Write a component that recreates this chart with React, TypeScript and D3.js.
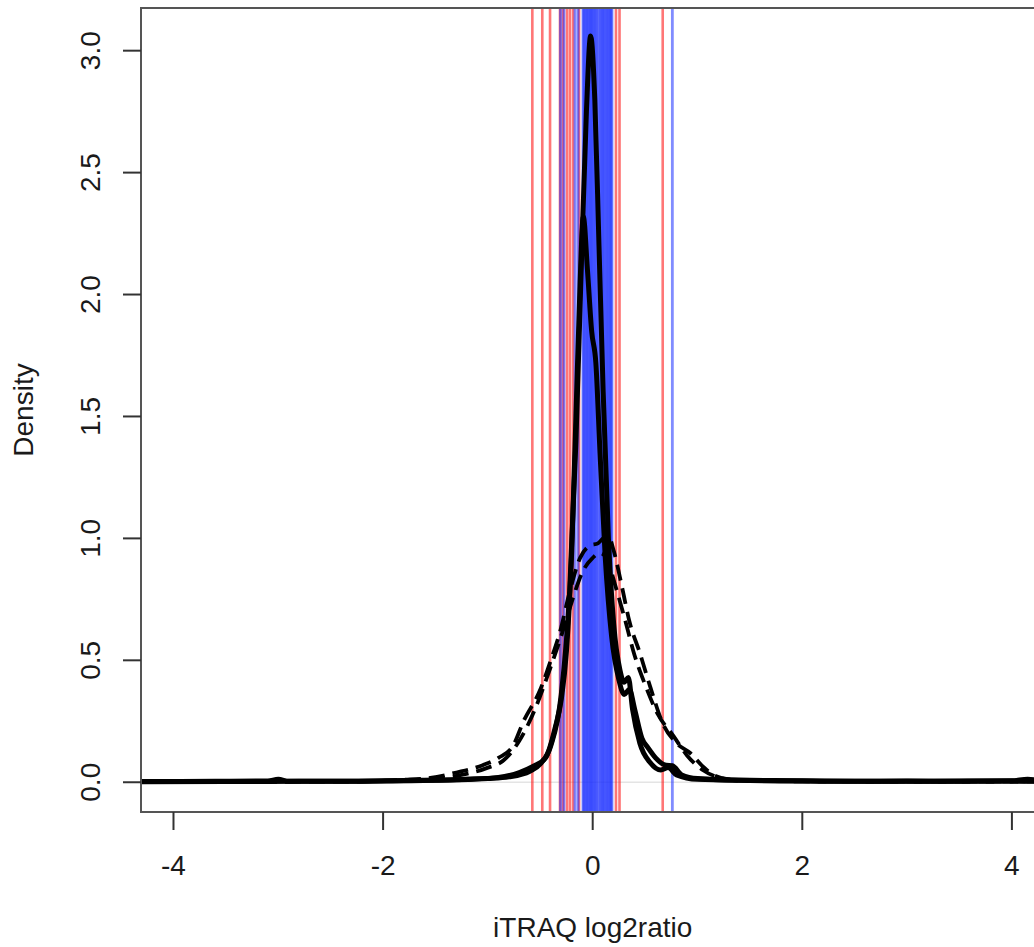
import React from "react";
import * as d3 from "d3";

// ---- data ----
const xTicks = [-4, -2, 0, 2, 4];
const yTicks = [0, 0.5, 1.0, 1.5, 2.0, 2.5, 3.0];

const redLines = [-0.576, -0.481, -0.407, -0.312, -0.283, -0.245, -0.217, -0.187, -0.13, 0.222, 0.256, 0.668];
const blueLines = [
  -0.307, -0.274, -0.169, -0.14, -0.093, -0.085, -0.073, -0.06, -0.05, -0.038, -0.026, -0.016,
  -0.007, 0.005, 0.017, 0.028, 0.041, 0.055, 0.07, 0.082, 0.094, 0.105, 0.117, 0.13, 0.141, 0.153,
  0.165, 0.175, 0.184, 0.76,
];

// solid density curve with tallest peak
const solidA: [number, number][] = [
  [-4.31, 0.003], [-3.6, 0.004], [-3.1, 0.005], [-3.0, 0.012], [-2.9, 0.004], [-2.3, 0.004],
  [-1.8, 0.007], [-1.3, 0.01], [-1.0, 0.015], [-0.8, 0.022], [-0.6, 0.045], [-0.5, 0.075],
  [-0.4, 0.15], [-0.3, 0.36], [-0.22, 0.78], [-0.16, 1.4], [-0.11, 2.1], [-0.06, 2.75],
  [-0.02, 3.06], [0.02, 2.8], [0.06, 2.2], [0.1, 1.6], [0.15, 1.0], [0.2, 0.65], [0.26, 0.46],
  [0.3, 0.41], [0.34, 0.43], [0.38, 0.3], [0.45, 0.16], [0.55, 0.08], [0.65, 0.05], [0.72, 0.06],
  [0.8, 0.03], [1.0, 0.012], [1.5, 0.008], [2.0, 0.006], [2.5, 0.004], [3.0, 0.005], [3.5, 0.004],
  [4.0, 0.006], [4.15, 0.012], [4.31, 0.005],
];

// solid density curve with second peak and shoulder
const solidB: [number, number][] = [
  [-4.31, 0.002], [-3.5, 0.003], [-2.8, 0.004], [-2.0, 0.005], [-1.5, 0.008], [-1.2, 0.012],
  [-0.9, 0.02], [-0.7, 0.04], [-0.57, 0.065], [-0.45, 0.1], [-0.36, 0.22], [-0.3, 0.34],
  [-0.25, 0.54], [-0.2, 0.95], [-0.16, 1.5], [-0.12, 2.05], [-0.09, 2.32], [-0.05, 2.1],
  [-0.01, 1.85], [0.03, 1.72], [0.07, 1.35], [0.12, 0.92], [0.18, 0.6], [0.25, 0.42], [0.3, 0.36],
  [0.35, 0.38], [0.4, 0.3], [0.47, 0.18], [0.53, 0.14], [0.6, 0.1], [0.7, 0.07], [0.76, 0.068],
  [0.85, 0.03], [1.0, 0.015], [1.5, 0.007], [2.0, 0.005], [2.6, 0.004], [3.2, 0.004], [3.8, 0.005],
  [4.31, 0.004],
];

// dashed curve, higher
const dashedC: [number, number][] = [
  [-4.31, 0.002], [-3.0, 0.003], [-2.2, 0.004], [-1.8, 0.01], [-1.55, 0.018], [-1.3, 0.04],
  [-1.05, 0.07], [-0.9, 0.1], [-0.76, 0.15], [-0.66, 0.25], [-0.5, 0.38], [-0.4, 0.5],
  [-0.31, 0.62], [-0.22, 0.78], [-0.12, 0.92], [-0.03, 0.97], [0.05, 0.98], [0.1, 1.0],
  [0.15, 1.01], [0.2, 0.95], [0.28, 0.8], [0.35, 0.66], [0.45, 0.53], [0.55, 0.39], [0.67, 0.24],
  [0.8, 0.16], [0.93, 0.12], [1.05, 0.065], [1.15, 0.03], [1.3, 0.012], [1.6, 0.006],
  [2.2, 0.004], [3.0, 0.003], [4.31, 0.003],
];

// dashed curve, lower
const dashedD: [number, number][] = [
  [-4.31, 0.002], [-3.0, 0.003], [-2.2, 0.004], [-1.8, 0.008], [-1.5, 0.015], [-1.25, 0.03],
  [-1.0, 0.06], [-0.85, 0.09], [-0.7, 0.17], [-0.55, 0.3], [-0.42, 0.45], [-0.3, 0.6],
  [-0.2, 0.74], [-0.1, 0.86], [0.0, 0.92], [0.07, 0.94], [0.13, 0.92], [0.22, 0.8], [0.3, 0.68],
  [0.4, 0.52], [0.5, 0.4], [0.62, 0.28], [0.77, 0.19], [0.9, 0.11], [1.05, 0.05], [1.2, 0.02],
  [1.4, 0.007], [2.0, 0.004], [3.0, 0.003], [4.31, 0.003],
];

const solidCurves = [solidA, solidB];
const dashedCurves = [dashedC, dashedD];

const W = 1034;
const H = 947;
const plotLeft = 141;
const plotRight = 1044.4;
const plotTop = 8;
const plotBottom = 812;

export default function App() {
  const x = d3.scaleLinear().domain([-4.31, 4.31]).range([plotLeft, plotRight]);
  const y = d3.scaleLinear().domain([-0.122, 3.175]).range([plotBottom, plotTop]);
  const line = d3
    .line<[number, number]>()
    .x((d) => x(d[0]))
    .y((d) => y(d[1]))
    .curve(d3.curveMonotoneX);

  const font = "'Liberation Sans', Arial, Helvetica, sans-serif";
  const textColor = "#1a1a1a";

  return (
    <svg
      width={W}
      height={H}
      style={{ position: "absolute", left: 0, top: 0, background: "#fff" }}
      fontFamily={font}
    >
      <defs>
        <clipPath id="plotClip">
          <rect x={plotLeft} y={plotTop} width={plotRight - plotLeft} height={plotBottom - plotTop} />
        </clipPath>
      </defs>
      <rect x={0} y={0} width={W} height={H} fill="#fff" />
      <g clipPath="url(#plotClip)">
        <line x1={plotLeft} x2={plotRight} y1={y(0)} y2={y(0)} stroke="#e4e4e4" strokeWidth={1.5} />
        {redLines.map((v, i) => (
          <line
            key={"r" + i}
            x1={x(v)}
            x2={x(v)}
            y1={plotTop}
            y2={plotBottom}
            stroke="#ff1a1a"
            strokeOpacity={0.6}
            strokeWidth={2.6}
          />
        ))}
        {blueLines.map((v, i) => (
          <line
            key={"b" + i}
            x1={x(v)}
            x2={x(v)}
            y1={plotTop}
            y2={plotBottom}
            stroke="#1a2dff"
            strokeOpacity={0.55}
            strokeWidth={2.8}
          />
        ))}
        {dashedCurves.map((c, i) => (
          <path
            key={"d" + i}
            d={line(c) || ""}
            fill="none"
            stroke="#000"
            strokeWidth={3.8}
            strokeDasharray="16 8"
            strokeLinejoin="round"
          />
        ))}
        {solidCurves.map((c, i) => (
          <path key={"s" + i} d={line(c) || ""} fill="none" stroke="#000" strokeWidth={5} strokeLinejoin="round" />
        ))}
      </g>
      {/* box */}
      <rect
        x={plotLeft}
        y={plotTop}
        width={plotRight - plotLeft}
        height={plotBottom - plotTop}
        fill="none"
        stroke="#555"
        strokeWidth={2}
      />
      {/* x axis */}
      {xTicks.map((t) => (
        <g key={"xt" + t}>
          <line x1={x(t)} x2={x(t)} y1={plotBottom} y2={plotBottom + 18} stroke="#333" strokeWidth={2} />
          <text x={x(t)} y={875} textAnchor="middle" fontSize={28} fill={textColor}>
            {String(t)}
          </text>
        </g>
      ))}
      {/* y axis */}
      {yTicks.map((t) => (
        <g key={"yt" + t}>
          <line x1={plotLeft - 18} x2={plotLeft} y1={y(t)} y2={y(t)} stroke="#333" strokeWidth={2} />
          <text
            transform={`translate(100,${y(t)}) rotate(-90)`}
            textAnchor="middle"
            fontSize={28}
            fill={textColor}
          >
            {t.toFixed(1)}
          </text>
        </g>
      ))}
      <text x={x(0)} y={937} textAnchor="middle" fontSize={28} fill={textColor}>
        iTRAQ log2ratio
      </text>
      <text
        transform={`translate(33,${(plotTop + plotBottom) / 2}) rotate(-90)`}
        textAnchor="middle"
        fontSize={28}
        fill={textColor}
      >
        Density
      </text>
    </svg>
  );
}
